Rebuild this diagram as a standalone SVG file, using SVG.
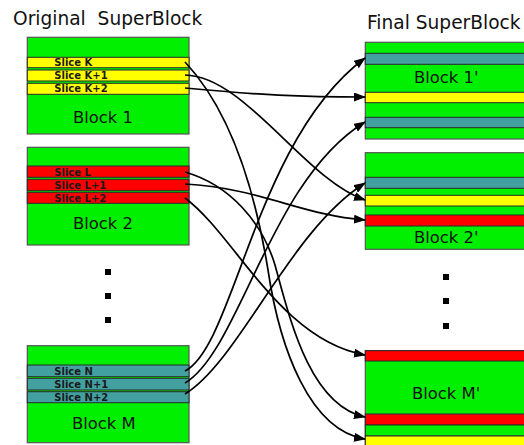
<svg xmlns="http://www.w3.org/2000/svg" width="524" height="445" viewBox="0 0 524 445">
  <style>
    .title { font-family: "DejaVu Sans", "Liberation Sans", sans-serif; font-size: 18.6px; fill: #111; white-space: pre; }
    .blk { font-family: "DejaVu Sans", "Liberation Sans", sans-serif; font-size: 16.4px; fill: #111; }
    .sl { font-family: "DejaVu Sans", "Liberation Sans", sans-serif; font-size: 10px; font-weight: bold; fill: #1a1a1a; }
    .frame { fill: #00f000; stroke: #555; stroke-width: 1.2; }
    .g { fill: #00f000; stroke: #2a2a2a; stroke-width: 1; }
    .y { fill: #ffff00; stroke: #2a2a2a; stroke-width: 1; }
    .r { fill: #ff0000; stroke: #2a2a2a; stroke-width: 1; }
    .t { fill: #42a0a0; stroke: #2a2a2a; stroke-width: 1; }
    .dot { fill: #000; }
    .arr { fill: none; stroke: #000; stroke-width: 1.7; marker-end: url(#head); }
  </style>
  <defs>
    <marker id="head" viewBox="0 0 12 9" refX="11" refY="4.5" markerWidth="12" markerHeight="9" markerUnits="userSpaceOnUse" orient="auto">
      <path d="M0,0 L12,4.5 L0,9 z" fill="#000"/>
    </marker>
  </defs>

  <rect width="524" height="445" fill="#fff"/>

  <text class="title" x="13" y="25">Original  SuperBlock</text>
  <text class="title" x="367" y="29">Final SuperBlock</text>

  <!-- source blocks -->
  <g id="block1">
    <rect class="frame" x="27.3" y="37.3" width="161.7" height="96.7"/>
    <rect class="y" x="27.3" y="57.3" width="161.7" height="10.4"/>
    <rect class="y" x="27.3" y="70" width="161.7" height="11"/>
    <rect class="y" x="27.3" y="83.3" width="161.7" height="11"/>
    <text class="sl" x="54.3" y="66">Slice K</text>
    <text class="sl" x="54.3" y="79.3">Slice K+1</text>
    <text class="sl" x="54.3" y="92.3">Slice K+2</text>
    <text class="blk" x="73" y="122.5">Block 1</text>
  </g>

  <g id="block2">
    <rect class="frame" x="27.3" y="147.3" width="161.7" height="97.7"/>
    <rect class="r" x="27.3" y="166" width="161.7" height="11.3"/>
    <rect class="r" x="27.3" y="179.3" width="161.7" height="11.4"/>
    <rect class="r" x="27.3" y="192.3" width="161.7" height="11"/>
    <text class="sl" x="54.3" y="175.5">Slice L</text>
    <text class="sl" x="54.3" y="188.5">Slice L+1</text>
    <text class="sl" x="54.3" y="201.5">Slice L+2</text>
    <text class="blk" x="73" y="229">Block 2</text>
  </g>

  <g id="dots-left">
    <rect class="dot" x="105" y="269" width="6" height="6"/>
    <rect class="dot" x="105" y="293" width="6" height="6"/>
    <rect class="dot" x="105" y="317" width="6" height="6"/>
  </g>

  <g id="blockM">
    <rect class="frame" x="27.3" y="345.7" width="161.7" height="97"/>
    <rect class="t" x="27.3" y="365" width="161.7" height="11.7"/>
    <rect class="t" x="27.3" y="378.3" width="161.7" height="11.7"/>
    <rect class="t" x="27.3" y="391.7" width="161.7" height="11"/>
    <text class="sl" x="54.3" y="374.5">Slice N</text>
    <text class="sl" x="54.3" y="387.8">Slice N+1</text>
    <text class="sl" x="54.3" y="401">Slice N+2</text>
    <text class="blk" x="72" y="428.5">Block M</text>
  </g>

  <!-- destination blocks -->
  <g id="block1p">
    <rect class="frame" x="365.3" y="42.3" width="170" height="96.7"/>
    <rect class="t" x="365.3" y="53.3" width="170" height="11"/>
    <rect class="y" x="365.3" y="92.3" width="170" height="10.4"/>
    <rect class="t" x="365.3" y="117.3" width="170" height="10.4"/>
    <text class="blk" x="414" y="83">Block 1'</text>
  </g>

  <g id="block2p">
    <rect class="frame" x="365.3" y="152.7" width="170" height="96.6"/>
    <rect class="t" x="365.3" y="177.3" width="170" height="11"/>
    <rect class="y" x="365.3" y="195.3" width="170" height="10.7"/>
    <rect class="r" x="365.3" y="215" width="170" height="11"/>
    <text class="blk" x="414" y="243">Block 2'</text>
  </g>

  <g id="dots-right">
    <rect class="dot" x="443" y="274" width="6" height="6"/>
    <rect class="dot" x="443" y="298" width="6" height="6"/>
    <rect class="dot" x="443" y="323" width="6" height="6"/>
  </g>

  <g id="blockMp">
    <rect class="frame" x="365.3" y="350.7" width="170" height="100"/>
    <rect class="r" x="365.3" y="350.7" width="170" height="10.3"/>
    <rect class="r" x="365.3" y="414" width="170" height="11"/>
    <rect class="g" x="365.3" y="425" width="170" height="11"/>
    <rect class="y" x="365.3" y="436" width="170" height="14"/>
    <text class="blk" x="412" y="398.5">Block M'</text>
  </g>

  <!-- slice moves -->
  <g id="connectors">
    <path class="arr" d="M185,62 C230,110 255,190 268,270 C280,350 310,430 365,439"/>
    <path class="arr" d="M185,75 C245,76 305,180 365,200"/>
    <path class="arr" d="M185,88 C260,95 300,97 365,97"/>
    <path class="arr" d="M185,172 C230,185 262,222 275,265 C290,320 310,405 365,417"/>
    <path class="arr" d="M185,184 C260,188 300,215 365,220"/>
    <path class="arr" d="M185,198 C235,235 280,340 365,355"/>
    <path class="arr" d="M185,371 C235,345 255,140 365,58"/>
    <path class="arr" d="M185,383 C240,350 270,180 365,122"/>
    <path class="arr" d="M185,394 C240,360 290,230 365,183"/>
  </g>
</svg>
